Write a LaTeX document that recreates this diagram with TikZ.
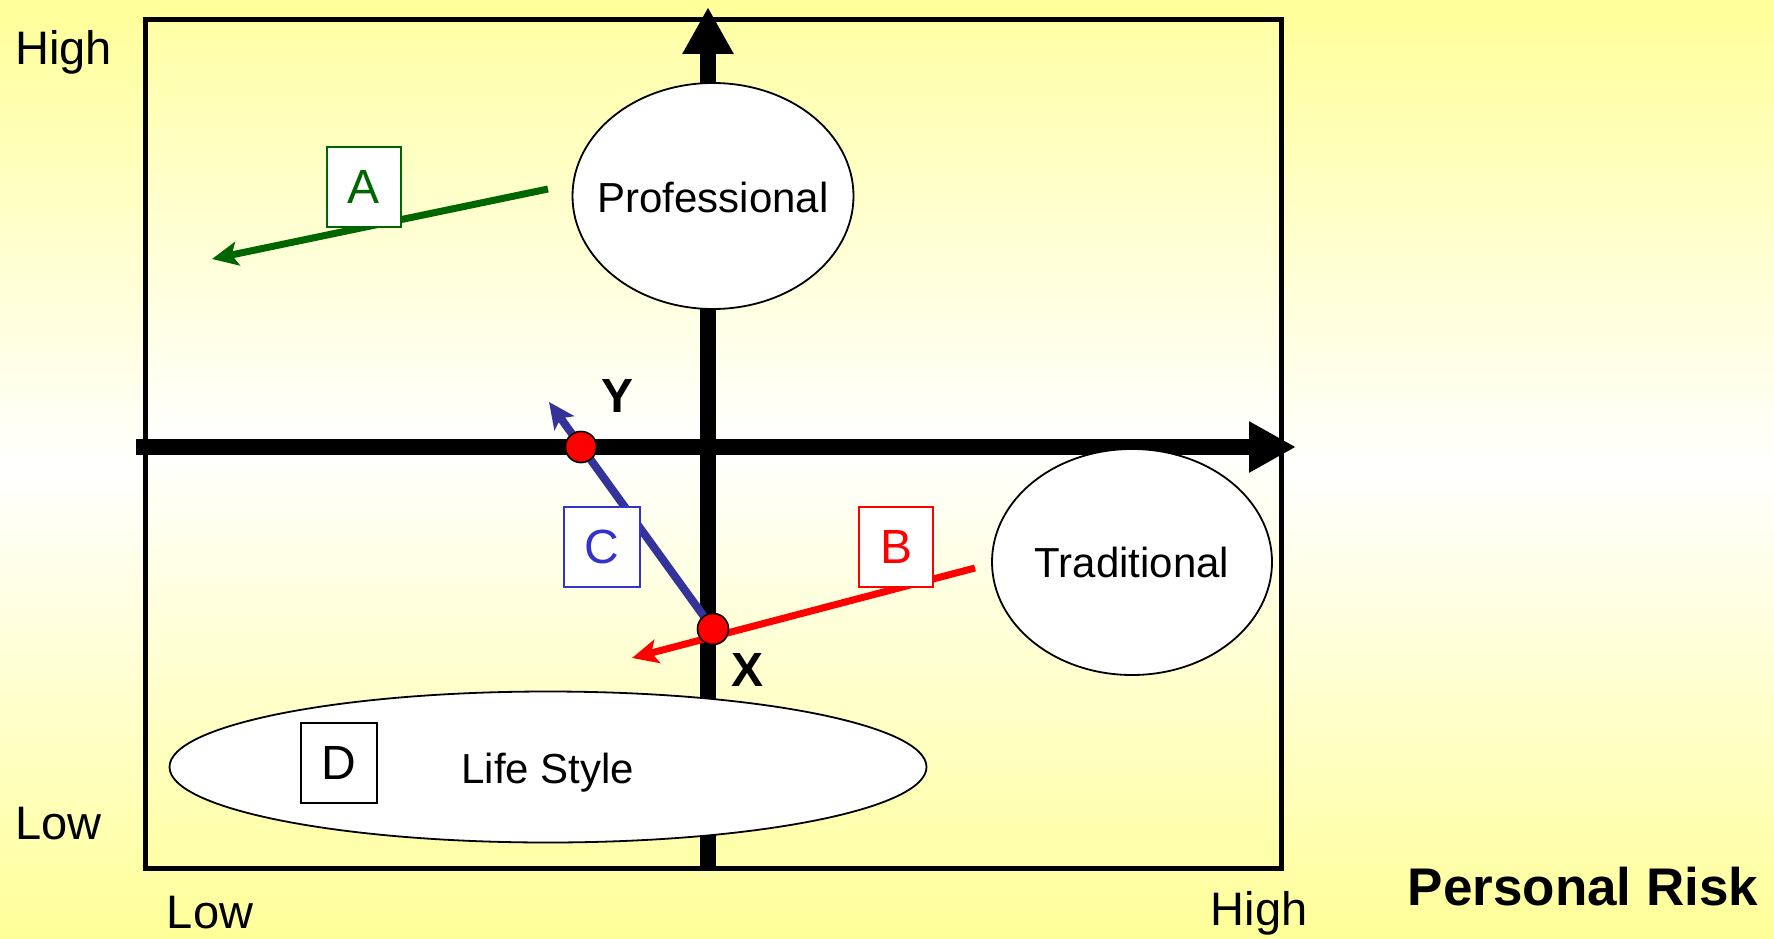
\documentclass[tikz,border=0pt]{standalone}
\usepackage{fontspec}
\setmainfont{Liberation Sans}
\usetikzlibrary{arrows.meta,shapes.geometric}
\definecolor{bgyel}{HTML}{FFFF99}
\definecolor{inyel}{HTML}{FFFFA6}
\definecolor{agreen}{HTML}{006600}
\definecolor{cline}{HTML}{333399}
\definecolor{cbox}{HTML}{3333CC}
\definecolor{bred}{HTML}{FF0000}
\begin{document}
\begin{tikzpicture}[x=1pt,y=-1pt,
  axisline/.style={line width=16pt,-{Triangle[length=47pt,width=48pt]}},
  oval/.style={ellipse,draw,fill=white,line width=1.8pt,inner sep=0pt},
  ovaltext/.style={inner sep=0pt,font=\fontsize{42}{50}\selectfont},
  lbox/.style={draw,fill=white,line width=2pt,minimum width=75pt,minimum height=80pt,inner sep=0pt,font=\fontsize{48}{56}\selectfont},
  move/.style={line width=7pt,-{Stealth[length=26pt,width=24pt,inset=6pt]}},
  dot/.style={circle,draw,fill=bred,line width=1.5pt,minimum size=31pt,inner sep=0pt},
  axlabel/.style={font=\fontsize{47}{56}\selectfont,inner sep=0pt},
  ptlabel/.style={font=\bfseries\fontsize{48}{56}\selectfont,inner sep=0pt}]
\useasboundingbox (0,0) rectangle (1774,939);
\shade[top color=bgyel, bottom color=bgyel, middle color=white] (0,0) rectangle (1774,939);
\shade[top color=inyel, bottom color=inyel, middle color=white] (145,20) rectangle (1281,868);
\draw[line width=5pt] (145,20) rectangle (1281,868);
% axes
\coordinate (vbot) at (708,871);
\coordinate (vtop) at (708,7);
\coordinate (hl) at (136,447);
\coordinate (hr) at (1296,447);
\draw[axisline] (vbot) -- (vtop);
\draw[axisline] (hl) -- (hr);
% ellipses
\node[oval,minimum width=281pt,minimum height=226pt] (prof) at (713,196) {};
\node[ovaltext] (proft) at (713,197) {Professional};
\node[oval,minimum width=280pt,minimum height=226pt] (trad) at (1132,562) {};
\node[ovaltext] (tradt) at (1132,562) {Traditional};
\node[oval,minimum width=757pt,minimum height=151pt] (life) at (548,767) {};
\node[ovaltext] (lifet) at (548,773) {Life Style};
% movement arrows
\coordinate (astart) at (548,189);
\coordinate (aend) at (212,259);
\draw[move,agreen] (astart) -- (aend);
\coordinate (bstart) at (975,568);
\coordinate (bend) at (632,658);
\coordinate (cend) at (549,402);
\node[dot] (xdot) at (713,629) {};
\node[dot] (ydot) at (581,447) {};
\draw[move,cline,line width=8pt] (xdot.center) -- (cend);
\draw[move,bred] (bstart) -- (bend);
\node[dot] at (xdot) {};
\node[dot] at (ydot) {};
% boxes
\node[lbox,draw=agreen,text=agreen,minimum width=74pt] (boxA) at (364,187) {A};
\node[lbox,draw=bred,text=bred,minimum width=74pt] (boxB) at (896,547) {B};
\node[lbox,draw=cbox,text=cbox,minimum width=76pt] (boxC) at (602,547) {C};
\node[lbox,draw=black,line width=1.8pt,minimum width=76pt] (boxD) at (339,763) {D};
% point labels
\node[ptlabel] (ylab) at (617,396) {Y};
\node[ptlabel] (xlab) at (747,670) {X};
% axis labels
\node[axlabel,anchor=west] (hiL) at (15,52) {High};
\node[axlabel,anchor=west] (loL) at (15,824) {Low};
\node[axlabel] (loB) at (210,913) {Low};
\node[axlabel] (hiB) at (1259,913) {High};
\node[font=\bfseries\fontsize{53}{60}\selectfont,inner sep=0pt] (prisk) at (1583,887) {Personal Risk};
\end{tikzpicture}
\end{document}
